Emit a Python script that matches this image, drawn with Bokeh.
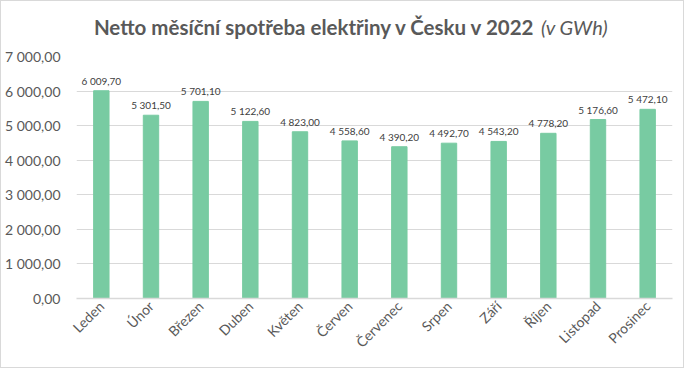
from bokeh.plotting import figure
from bokeh.models import (ColumnDataSource, FactorRange, Range1d, FixedTicker,
                          CustomJSTickFormatter, Label)
from bokeh.core.properties import value
from bokeh.embed import file_html
from bokeh.resources import INLINE

months = ["Leden", "Únor", "Březen", "Duben", "Květen", "Červen",
          "Červenec", "Srpen", "Září", "Říjen", "Listopad", "Prosinec"]
consumption = [6009.70, 5301.50, 5701.10, 5122.60, 4823.00, 4558.60,
               4390.20, 4492.70, 4543.20, 4778.20, 5176.60, 5472.10]
y_ticks = [0, 1000, 2000, 3000, 4000, 5000, 6000, 7000]
title_main = "Netto měsíční spotřeba elektřiny v Česku v 2022"
title_unit = "(v GWh)"

def fmt(v):
    return f"{v:,.2f}".replace(",", " ").replace(".", ",")

src = ColumnDataSource(dict(m=months, v=consumption,
                            lab=[fmt(v) for v in consumption]))

FONT = "Lato"
GRAY = "#595959"
GRID = "#D9D9D9"

# frame spans the whole top of the figure so the title can sit inside it
FRAME_H = 297          # px, from figure top to the zero line
AXIS_H = 242           # px, height of 0..7000
Y_TOP = 7000 * FRAME_H / AXIS_H

p = figure(width=684, height=368, output_backend="svg", toolbar_location=None,
           x_range=FactorRange(factors=months, range_padding=0),
           y_range=Range1d(0, Y_TOP),
           min_border_left=75, min_border_right=13,
           min_border_top=0, min_border_bottom=368 - FRAME_H)
p.styles = {"border": "1px solid #D9D9D9", "box-sizing": "border-box"}
p.outline_line_color = None
p.background_fill_color = "white"

p.vbar(x="m", top="v", width=0.31, source=src, color="#78CBA2")
p.text(x="m", y="v", text="lab", source=src, text_align="center",
       text_baseline="alphabetic", y_offset=-10, text_font=value(FONT),
       text_font_size="10px", text_color="#404040")

# axes
p.yaxis.ticker = FixedTicker(ticks=y_ticks)
p.yaxis.formatter = CustomJSTickFormatter(code="""
const s = tick.toFixed(2).split('.');
return s[0].replace(/\\B(?=(\\d{3})+(?!\\d))/g, ' ') + ',' + s[1];
""")
p.yaxis.axis_line_color = None
p.yaxis.major_tick_line_color = None
p.yaxis.minor_tick_line_color = None
p.yaxis.major_tick_out = 0
p.yaxis.major_label_standoff = 16
p.yaxis.major_label_text_font = FONT
p.yaxis.major_label_text_font_size = "14px"
p.yaxis.major_label_text_color = GRAY

p.xaxis.axis_line_color = GRID
p.xaxis.axis_line_width = 1.5
p.xaxis.major_tick_line_color = None
p.xaxis.major_tick_out = 0
p.xaxis.major_label_orientation = 0.785398
p.xaxis.major_label_standoff = 5
p.xaxis.major_label_text_font = FONT
p.xaxis.major_label_text_font_size = "14px"
p.xaxis.major_label_text_color = GRAY

p.xgrid.grid_line_color = None
p.ygrid.ticker = FixedTicker(ticks=y_ticks[1:-1])
p.ygrid.grid_line_color = GRID

# title (bold part + italic unit)
p.add_layout(Label(x=9.25, y=7850, text=title_main, text_align="right",
                   text_baseline="alphabetic", text_font=FONT,
                   text_font_size="20.5px", text_font_style="bold",
                   text_color=GRAY))
p.add_layout(Label(x=9.25, y=7850, x_offset=5, text=title_unit,
                   text_align="left", text_baseline="alphabetic",
                   text_font=FONT, text_font_size="20px",
                   text_font_style="italic", text_color=GRAY))

open("out.html", "w").write(file_html(p, INLINE))
